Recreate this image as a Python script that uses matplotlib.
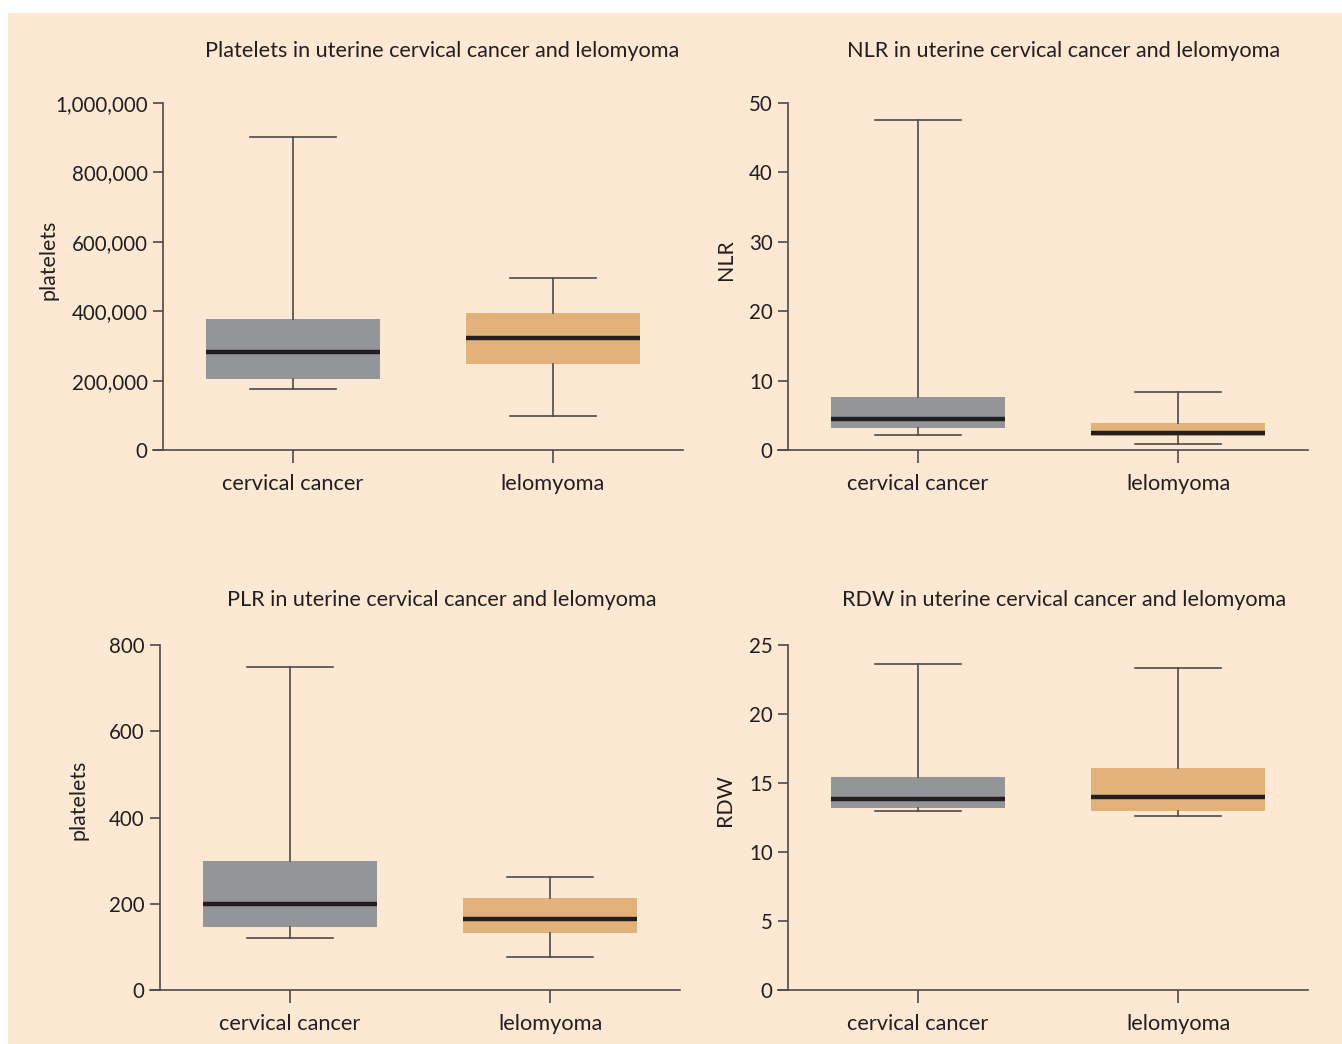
import matplotlib.pyplot as plt
from matplotlib.patches import Rectangle

# --- data ---
groups = ["cervical cancer", "lelomyoma"]

plt_med = [282000, 323000]
plt_q1 = [205000, 248000]
plt_q3 = [377000, 395000]
plt_lo = [176000, 98000]
plt_hi = [902000, 496000]

nlr_med = [4.5, 2.4]
nlr_q1 = [3.1, 2.0]
nlr_q3 = [7.6, 3.9]
nlr_lo = [2.2, 0.9]
nlr_hi = [47.5, 8.4]

plr_med = [200, 164]
plr_q1 = [146, 132]
plr_q3 = [300, 213]
plr_lo = [121, 77]
plr_hi = [749, 262]

rdw_med = [13.85, 14.0]
rdw_q1 = [13.2, 13.0]
rdw_q3 = [15.4, 16.1]
rdw_lo = [13.0, 12.6]
rdw_hi = [23.6, 23.3]

box_colors = ["#939598", "#e3b27a"]
bg = "#fde8d3"
ink = "#231f20"
line_c = "#4d4a4a"

plt.rcParams["font.family"] = ["Lato", "DejaVu Sans"]

W, H = 1342, 1044
fig = plt.figure(figsize=(W / 100, H / 100), dpi=100)
fig.patch.set_facecolor("white")
fig.patches.append(Rectangle((8 / W, 0), 1 - 8 / W, 1 - 13 / H,
                             transform=fig.transFigure, facecolor=bg,
                             edgecolor="none", zorder=-10))


def panel(rect, med, q1, q3, lo, hi, ymax, yticks, ylabels, ylabel, ylab_xy, title, title_xy):
    l, b, r, t = rect
    ax = fig.add_axes([l / W, 1 - b / H, (r - l) / W, (b - t) / H])
    ax.set_facecolor("none")
    stats = []
    for i in range(2):
        stats.append(dict(med=med[i], q1=q1[i], q3=q3[i], whislo=lo[i], whishi=hi[i]))
    bp = ax.bxp(stats, positions=[0, 1], widths=0.67, capwidths=0.33,
                showfliers=False, patch_artist=True,
                boxprops=dict(linewidth=0),
                medianprops=dict(color=ink, linewidth=3.2, solid_capstyle="butt"),
                whiskerprops=dict(color=line_c, linewidth=1.2),
                capprops=dict(color=line_c, linewidth=1.2))
    for patch, c in zip(bp["boxes"], box_colors):
        patch.set_facecolor(c)
        patch.set_edgecolor(c)
    ax.set_xlim(-0.5, 1.5)
    ax.set_ylim(0, ymax)
    ax.set_yticks(yticks)
    ax.set_yticklabels(ylabels)
    ax.set_xticks([0, 1])
    ax.set_xticklabels(groups)
    for s in ["top", "right"]:
        ax.spines[s].set_visible(False)
    for s in ["left", "bottom"]:
        ax.spines[s].set_color(line_c)
        ax.spines[s].set_linewidth(1.2)
    ax.spines["bottom"].set_bounds(-0.5 - 10 / 260, 1.5)
    ax.tick_params(axis="y", length=7, width=1.2, color=line_c, labelsize=14.8, labelcolor=ink, pad=4)
    ax.tick_params(axis="x", length=9, width=1.2, color=line_c, labelsize=15.7, labelcolor=ink, pad=8)
    ax.set_ylabel(ylabel, fontsize=15.4, color=ink)
    ax.yaxis.set_label_coords((ylab_xy[0] - l) / (r - l), (b - ylab_xy[1]) / (b - t))
    fig.text(title_xy[0] / W, 1 - title_xy[1] / H, title, ha="center", va="center",
             fontsize=15.6, color=ink)
    return ax


panel((163, 450, 683, 103), plt_med, plt_q1, plt_q3, plt_lo, plt_hi, 1000000,
      [0, 200000, 400000, 600000, 800000, 1000000],
      ["0", "200,000", "400,000", "600,000", "800,000", "1,000,000"],
      "platelets", (59, 260), "Platelets in uterine cervical cancer and lelomyoma", (442, 51))

panel((788, 450, 1308, 103), nlr_med, nlr_q1, nlr_q3, nlr_lo, nlr_hi, 50,
      [0, 10, 20, 30, 40, 50], ["0", "10", "20", "30", "40", "50"],
      "NLR", (736, 260), "NLR in uterine cervical cancer and lelomyoma", (1064, 51))

panel((160, 990, 680, 645), plr_med, plr_q1, plr_q3, plr_lo, plr_hi, 800,
      [0, 200, 400, 600, 800], ["0", "200", "400", "600", "800"],
      "platelets", (88, 800), "PLR in uterine cervical cancer and lelomyoma", (442, 600))

panel((788, 990, 1308, 645), rdw_med, rdw_q1, rdw_q3, rdw_lo, rdw_hi, 25,
      [0, 5, 10, 15, 20, 25], ["0", "5", "10", "15", "20", "25"],
      "RDW", (735, 800), "RDW in uterine cervical cancer and lelomyoma", (1064, 600))

fig.savefig("out.png", dpi=100, facecolor=fig.get_facecolor())
